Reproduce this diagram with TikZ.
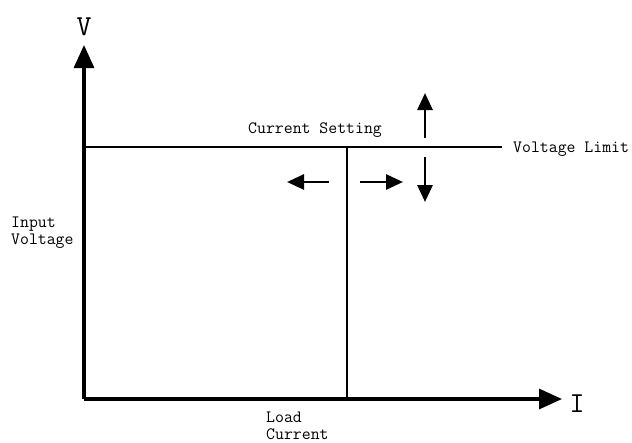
\documentclass[tikz,border=0pt]{standalone}
\usepackage{fontspec}
\usepackage{tikz}
\usetikzlibrary{arrows.meta,positioning}

\begin{document}
\begin{tikzpicture}[
  x=1pt,y=-1pt,
  lbl/.style={font=\fontsize{17.3}{17}\selectfont\ttfamily,inner sep=0pt,
              align=left},
  axlbl/.style={font=\fontsize{29}{30}\selectfont\ttfamily,inner sep=0pt},
  axis/.style={line width=3.2pt,-{Triangle[length=23pt,width=20pt]}},
  limit/.style={line width=2.6pt},
  movearr/.style={line width=2.8pt,-{Triangle[length=17pt,width=15pt]}},
]
  \useasboundingbox (0,0) rectangle (632,442);

  % axes
  \coordinate (O) at (84,399);
  \coordinate (ytip) at (84,45);
  \coordinate (xtip) at (562,399);
  \draw[axis] (O) -- (ytip);
  \draw[axis] (O) -- (xtip);
  \node[axlbl,anchor=base] (vlab) at (84,35) {V};
  \node[axlbl,anchor=base] (ilab) at (577,412) {I};

  % limit lines
  \coordinate (vl0) at (84,147);
  \coordinate (vl1) at (502,147);
  \coordinate (cs0) at (347,147);
  \coordinate (cs1) at (347,399);
  \draw[limit] (vl0) -- (vl1);
  \draw[line width=2.2pt] (cs0) -- (cs1);

  % adjustment arrows
  \coordinate (up0) at (425,138);
  \coordinate (up1) at (425,93);
  \coordinate (dn0) at (425,157);
  \coordinate (dn1) at (425,202);
  \coordinate (lt0) at (329,182);
  \coordinate (lt1) at (287,182);
  \coordinate (rt0) at (360,182);
  \coordinate (rt1) at (403,182);
  \draw[movearr] (up0) -- (up1);
  \draw[movearr] (dn0) -- (dn1);
  \draw[movearr] (lt0) -- (lt1);
  \draw[movearr] (rt0) -- (rt1);

  % labels
  \node[lbl,anchor=base west] (cset) at (248,133) {Current Setting};
  \node[lbl,anchor=base west] (vlim) at (513,152) {Voltage Limit};
  \node[lbl,anchor=base west] (vin) at (11,244) {Input\\Voltage};
  \node[lbl,anchor=base west] (iload) at (266,439) {Load\\Current};
\end{tikzpicture}
\end{document}
